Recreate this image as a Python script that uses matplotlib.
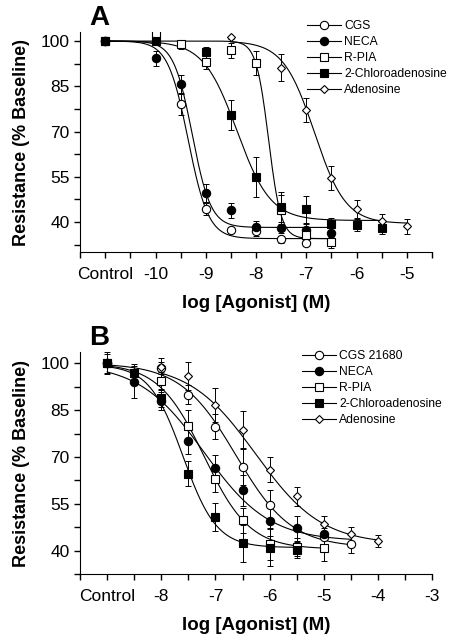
import numpy as np
import matplotlib.pyplot as plt

plt.rcParams['font.family'] = ['Liberation Sans', 'DejaVu Sans']

names_a = ['CGS', 'NECA', 'R-PIA', '2-Chloroadenosine', 'Adenosine']
names_b = ['CGS 21680', 'NECA', 'R-PIA', '2-Chloroadenosine', 'Adenosine']

# panel A: log dose (control plotted at -11), mean, sem
a_x = [
    [-11, -9.5, -9, -8.5, -8, -7.5, -7],
    [-11, -10, -9.5, -9, -8.5, -8, -7.5, -7, -6.5],
    [-11, -10, -9.5, -9, -8.5, -8, -7.5, -7, -6.5],
    [-11, -10, -9, -8.5, -8, -7.5, -7, -6.5, -6, -5.5],
    [-8.5, -7.5, -7, -6.5, -6, -5.5, -5],
]
a_y = [
    [100, 79.1, 44.4, 37.2, 36.9, 34.2, 33.2],
    [100, 94.3, 85.9, 49.6, 43.9, 38.3, 38.0, 37.5, 36.4],
    [100, 102.4, 98.9, 93.1, 96.9, 92.6, 44.0, 35.6, 33.4],
    [100, 100, 96.4, 75.4, 54.9, 45.0, 44.2, 39.2, 38.9, 38.0],
    [101.3, 91.2, 77.2, 54.5, 44.4, 40.3, 38.6],
]
a_err = [
    [0, 3.5, 2, 1, 1.5, 1, 1.2],
    [0, 2.5, 3, 3, 2.5, 2, 1.5, 2, 1.5],
    [0, 0.5, 1.5, 2.5, 2.5, 4, 5, 1.5, 2],
    [0, 1, 1.5, 5, 6.5, 5, 4.5, 2, 2, 2],
    [0.5, 4.5, 4, 4, 3, 2.5, 2.5],
]
# fitted curves: top, bottom, logEC50, hill, x start, x end
a_fit = [
    [100, 34.5, -9.35, 2.15, -11, -6.5],
    [100, 38.2, -9.27, 2.35, -11, -6.5],
    [100, 34.5, -7.75, 3.5, -11, -6.5],
    [100, 40.5, -8.38, 1.3, -11, -5.5],
    [100, 39.5, -6.84, 1.4, -8.5, -5],
]

# panel B: control plotted at -9
b_x = [
    [-9, -8, -7.5, -7, -6.5, -6, -5, -4.5],
    [-9, -8.5, -8, -7.5, -7, -6.5, -6, -5.5, -5],
    [-9, -8, -7.5, -7, -6.5, -6, -5.5, -5],
    [-9, -8.5, -8, -7.5, -7, -6.5, -6, -5.5],
    [-8, -7.5, -7, -6.5, -6, -5.5, -5, -4.5, -4],
]
b_y = [
    [100, 98.4, 89.9, 79.6, 66.9, 54.5, 44.3, 42.1],
    [100, 94.0, 87.9, 75.0, 66.6, 59.3, 49.6, 47.2, 45.2],
    [100, 94.3, 80.0, 62.8, 49.8, 42.1, 41.2, 40.7],
    [100, 96.9, 88.9, 64.6, 50.9, 42.3, 41.0, 40.2],
    [98.7, 95.9, 86.6, 78.6, 65.9, 57.4, 48.6, 45.2, 43.1],
]
b_err = [
    [3.5, 2, 3, 4, 6, 5, 3, 3],
    [0, 5, 3, 4, 4, 5, 5, 4, 3],
    [3, 3, 5, 4, 4, 5, 3, 4],
    [0, 3, 3, 4, 4.5, 6, 6, 2.5],
    [3, 4.5, 5.5, 6, 4, 3, 2.5, 2.5, 2],
]
b_fit = [
    [100, 41, -6.62, 0.85, -9, -4.5],
    [100, 43, -7.21, 0.72, -9, -4.5],
    [100, 40.5, -7.21, 1.03, -9, -5],
    [99.5, 41, -7.6, 1.4, -9, -5.5],
    [100, 42, -6.26, 0.71, -8, -4],
]

styles = [('o', 'white', 6), ('o', 'black', 6), ('s', 'white', 6),
          ('s', 'black', 6), ('D', 'white', 4.5)]


def panel(ax, xs, ys, errs, fits, names, ticklabels, xlim, ylim, letter):
    for i in range(5):
        top, bot, ec, h, x0, x1 = fits[i]
        xx = np.linspace(x0, x1, 300)
        yy = bot + (top - bot) / (1 + 10 ** ((xx - ec) * h))
        ax.plot(xx, yy, color='black', lw=0.8, zorder=2)
        m, fc, ms = styles[i]
        ax.errorbar(xs[i], ys[i], yerr=errs[i], fmt='none', ecolor='black',
                    elinewidth=0.7, capsize=2, capthick=0.7, zorder=3)
        ax.plot(xs[i], ys[i], m, mfc=fc, mec='black', ms=ms, mew=0.8, zorder=4)
        ax.plot([], [], '-' + m, color='black', mfc=fc, mec='black', ms=ms,
                mew=0.8, lw=0.8, label=names[i])
    ax.set_xlim(*xlim)
    ax.set_ylim(*ylim)
    ticks = np.arange(xlim[0], xlim[1] + 0.01, 0.5)
    ax.set_xticks(ticks)
    ax.set_xticklabels([ticklabels.get(t, '') for t in ticks])
    ax.set_yticks([40, 55, 70, 85, 100])
    ax.set_yticks(np.arange(32.5, 103, 7.5), minor=True)
    ax.tick_params(which='both', direction='out', length=4, width=1, labelsize=12.5)
    ax.tick_params(axis='x', pad=7)
    ax.spines['top'].set_visible(False)
    ax.spines['right'].set_visible(False)
    ax.set_ylabel('Resistance (% Baseline)', fontsize=13, fontweight='bold', labelpad=8)
    ax.set_xlabel('log [Agonist] (M)', fontsize=13.5, fontweight='bold', labelpad=9)
    ax.text(0.025, 1.03, letter, transform=ax.transAxes, fontsize=20, fontweight='bold')


fig = plt.figure(figsize=(4.5, 6.4), dpi=100)
ax1 = fig.add_axes([0.178, 0.606, 0.782, 0.344])
ax2 = fig.add_axes([0.178, 0.103, 0.782, 0.347])

labels_a = {-11.0: 'Control', -10.0: '-10', -9.0: '-9', -8.0: '-8', -7.0: '-7',
            -6.0: '-6', -5.0: '-5'}
labels_b = {-9.0: 'Control', -8.0: '-8', -7.0: '-7', -6.0: '-6', -5.0: '-5',
            -4.0: '-4', -3.0: '-3'}
panel(ax1, a_x, a_y, a_err, a_fit, names_a, labels_a, (-11.5, -4.5), (30, 103), 'A')
panel(ax2, b_x, b_y, b_err, b_fit, names_b, labels_b, (-9.5, -3), (34.6, 103.6), 'B')

for ax, anchor in [(ax1, (307 / 450, 1 - 20 / 640)), (ax2, (302 / 450, 1 - 350 / 640))]:
    ax.legend(loc='upper left', bbox_to_anchor=anchor, bbox_transform=fig.transFigure,
              frameon=False, fontsize=8.7, handlelength=2.8, handletextpad=0.3,
              labelspacing=0.33, borderpad=0, borderaxespad=0)

fig.savefig('out.png', dpi=100)
